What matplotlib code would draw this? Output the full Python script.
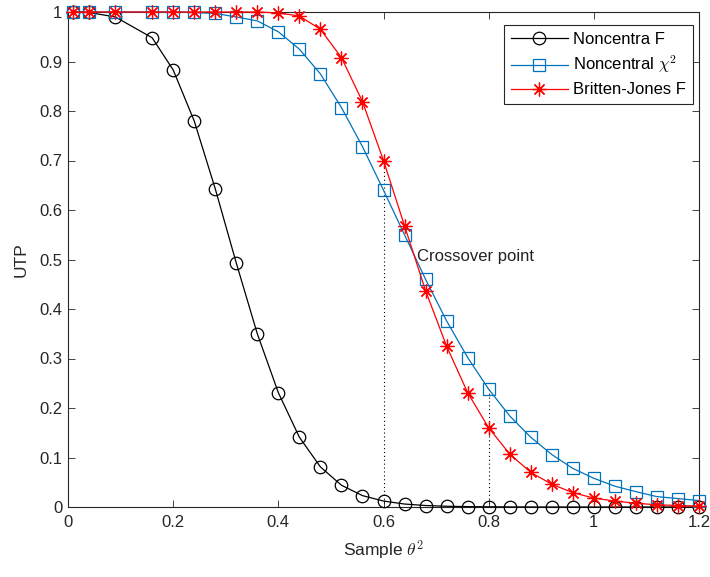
import matplotlib
matplotlib.use("Agg")
import matplotlib.pyplot as plt

plt.rcParams['font.family'] = ['Liberation Sans', 'DejaVu Sans']
plt.rcParams['mathtext.fontset'] = 'cm'

x = [0.01, 0.04, 0.09, 0.16, 0.20, 0.24, 0.28, 0.32, 0.36, 0.40, 0.44, 0.48, 0.52, 0.56,
     0.60, 0.64, 0.68, 0.72, 0.76, 0.80, 0.84, 0.88, 0.92, 0.96, 1.00, 1.04, 1.08, 1.12,
     1.16, 1.20]

noncentral_f = [1.0, 0.999, 0.99, 0.948, 0.883, 0.78, 0.643, 0.493, 0.35, 0.231, 0.141,
                0.081, 0.044, 0.023, 0.012, 0.006, 0.003, 0.0015, 0.0008, 0.0004, 0.0002,
                0.0001, 0.0, 0.0, 0.0, 0.0, 0.0, 0.0, 0.0, 0.0]

noncentral_chi2 = [1.0, 1.0, 1.0, 1.0, 1.0, 0.999, 0.997, 0.99, 0.982, 0.96, 0.925, 0.875,
                   0.807, 0.728, 0.64, 0.55, 0.46, 0.376, 0.302, 0.238, 0.184, 0.141,
                   0.106, 0.078, 0.058, 0.042, 0.031, 0.021, 0.017, 0.013]

britten_jones_f = [1.0, 1.0, 1.0, 1.0, 1.0, 1.0, 1.0, 1.0, 1.0, 0.998, 0.992, 0.965,
                   0.908, 0.819, 0.70, 0.568, 0.437, 0.325, 0.231, 0.16, 0.107, 0.07,
                   0.046, 0.029, 0.018, 0.012, 0.0075, 0.0045, 0.003, 0.002]

labels = ['Noncentra F', r'Noncentral $\chi^2$', 'Britten-Jones F']
xticks = [0, 0.2, 0.4, 0.6, 0.8, 1.0, 1.2]
xticklabels = ['0', '0.2', '0.4', '0.6', '0.8', '1', '1.2']
yticks = [0, 0.1, 0.2, 0.3, 0.4, 0.5, 0.6, 0.7, 0.8, 0.9, 1.0]
yticklabels = ['0', '0.1', '0.2', '0.3', '0.4', '0.5', '0.6', '0.7', '0.8', '0.9', '1']

fig = plt.figure(figsize=(7.10, 5.77), dpi=100)
ax = fig.add_axes([68/710, 1 - 507/577, (699-68)/710, (507-12)/577])

ax.plot(x, noncentral_f, color='black', lw=0.9, marker='o', ms=9, mfc='none', mew=0.9,
        label=labels[0], zorder=3, clip_on=False)
ax.plot(x, noncentral_chi2, color='#0072BD', lw=0.9, marker='s', ms=8.5, mfc='none', mew=0.9,
        label=labels[1], zorder=3, clip_on=False)
ax.plot(x, britten_jones_f, color='#FF0000', lw=0.9, marker=(8, 2, 0), ms=10, mew=0.9,
        label=labels[2], zorder=4, clip_on=False)

# dotted guide lines
i6 = x.index(0.60)
i8 = x.index(0.80)
ax.plot([0.6, 0.6], [0, britten_jones_f[i6]], color='black', ls=(0, (1, 2.5)), lw=0.8, zorder=2)
ax.plot([0.8, 0.8], [0, noncentral_chi2[i8]], color='black', ls=(0, (1, 2.5)), lw=0.8, zorder=2)

ax.text(0.664, 0.507, 'Crossover point', fontsize=12, va='center', ha='left', color='#222222')

ax.set_xlim(0, 1.2)
ax.set_ylim(0, 1)
ax.set_xticks(xticks)
ax.set_xticklabels(xticklabels)
ax.set_yticks(yticks)
ax.set_yticklabels(yticklabels)
ax.tick_params(direction='in', top=True, right=True, labelsize=12, length=5, width=0.6,
               colors='#262626')
ax.tick_params(axis='x', pad=6)
ax.tick_params(axis='y', pad=4)
for s in ax.spines.values():
    s.set_linewidth(0.8)
    s.set_color('#262626')

ax.set_xlabel(r'Sample $\theta^2$', fontsize=12.5, color='#262626', labelpad=6)
ax.set_ylabel('UTP', fontsize=12.5, color='#262626', labelpad=8)

leg = ax.legend(loc='upper right', fontsize=12, frameon=True, fancybox=False,
                edgecolor='#262626', framealpha=1, handlelength=3.4, borderpad=0.4,
                labelspacing=0.42, handletextpad=0.35, borderaxespad=0,
                bbox_to_anchor=(1 - 6/631, 1 - 13/495))
leg.get_frame().set_linewidth(0.8)

fig.savefig('out.png', dpi=100)
